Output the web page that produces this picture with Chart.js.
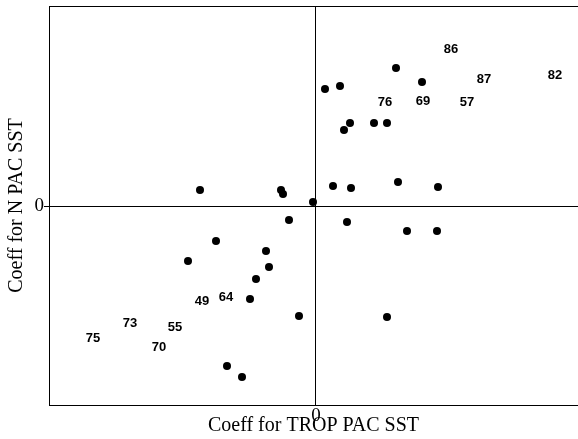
<!DOCTYPE html>
<html>
<head>
<meta charset="utf-8">
<script src="https://cdn.jsdelivr.net/npm/chart.js@4.4.1/dist/chart.umd.min.js"></script>
<style>
  html, body { margin: 0; padding: 0; background: #fff; }
</style>
</head>
<body>
<canvas id="chart" width="578" height="439"></canvas>
<script>
// years plotted as plain dots
const dotX = [-1.16, -0.35, -0.33, -0.27, 0.80, 1.06, 0.09, 0.24, 0.34, 0.28,
              0.58, 0.71, 0.17, 0.35, 0.82, 1.22, -0.03, -1.00, -1.28, -0.50,
              -0.47, -0.60, -0.66, -0.17, -0.89, -0.74, 0.31, 0.91, 1.21, 0.71];
const dotY = [0.16, 0.16, 0.12, -0.14, 1.38, 1.24, 1.17, 1.20, 0.83, 0.76,
              0.83, 0.83, 0.20, 0.18, 0.24, 0.19, 0.04, -0.35, -0.55, -0.45,
              -0.61, -0.73, -0.93, -1.10, -1.60, -1.71, -0.16, -0.25, -0.25, -1.11];

// years plotted as their labels
const yearLabels = ['86', '87', '82', '76', '69', '57', '49', '64', '73', '55', '75', '70'];
const yearX = [1.35, 1.68, 2.39, 0.69, 1.07, 1.51, -1.14, -0.90, -1.86, -1.41, -2.23, -1.57];
const yearY = [1.57, 1.27, 1.31, 1.04, 1.05, 1.04, -0.95, -0.91, -1.17, -1.21, -1.32, -1.41];

const xTicks = [0];
const yTicks = [0];
const xRange = [-2.67, 2.62];
const yRange = [-1.99, 2.00];

// little canvas with the year text, used as the point style
function labelImage(text) {
    const c = document.createElement('canvas');
    c.width = 26;
    c.height = 16;
    const g = c.getContext('2d');
    g.font = 'bold 13px "Liberation Sans", Arial, sans-serif';
    g.fillStyle = '#000';
    g.textAlign = 'center';
    g.textBaseline = 'middle';
    g.fillText(text, 13, 8.5);
    return c;
}

const serif = '"Liberation Serif", "Times New Roman", serif';

new Chart(document.getElementById('chart'), {
    type: 'scatter',
    data: {
        datasets: [{
            data: dotX.map((x, i) => ({ x: x, y: dotY[i] })),
            backgroundColor: '#000',
            borderColor: '#000',
            pointRadius: 4,
            borderWidth: 0
        }, {
            data: yearX.map((x, i) => ({ x: x, y: yearY[i] })),
            pointStyle: yearLabels.map(labelImage),
            pointRadius: 6
        }]
    },
    options: {
        responsive: false,
        animation: false,
        layout: { padding: 0, autoPadding: false },
        plugins: {
            legend: { display: false },
            tooltip: { enabled: false }
        },
        scales: {
            x: {
                type: 'linear',
                position: 'bottom',
                min: xRange[0],
                max: xRange[1],
                afterBuildTicks: axis => { axis.ticks = xTicks.map(v => ({ value: v })); },
                afterFit: axis => { axis.height = 34; axis.paddingLeft = 0; axis.paddingRight = 0; },
                grid: { color: '#000', lineWidth: 1, drawTicks: false },
                border: { display: true, color: '#000', width: 1 },
                ticks: {
                    padding: 0,
                    color: '#000',
                    font: { family: serif, size: 19 },
                    callback: v => String(v)
                },
                title: {
                    display: true,
                    text: 'Coeff for TROP PAC SST',
                    color: '#000',
                    font: { family: serif, size: 20 },
                    padding: { top: 0, bottom: 1 }
                }
            },
            x2: {
                type: 'linear',
                position: 'top',
                min: xRange[0],
                max: xRange[1],
                afterFit: axis => { axis.height = 6; axis.paddingLeft = 0; axis.paddingRight = 0; },
                grid: { display: false },
                border: { display: true, color: '#000', width: 1 },
                ticks: { display: false }
            },
            y: {
                type: 'linear',
                position: 'left',
                min: yRange[0],
                max: yRange[1],
                afterBuildTicks: axis => { axis.ticks = yTicks.map(v => ({ value: v })); },
                afterFit: axis => { axis.width = 49; axis.paddingTop = 0; axis.paddingBottom = 0; },
                grid: { color: '#000', lineWidth: 1, tickLength: 5 },
                border: { display: true, color: '#000', width: 1 },
                ticks: {
                    padding: 0,
                    color: '#000',
                    font: { family: serif, size: 19 },
                    callback: v => String(v)
                },
                title: {
                    display: true,
                    text: 'Coeff for N PAC SST',
                    color: '#000',
                    font: { family: serif, size: 20 },
                    padding: { top: 5, bottom: 0 }
                }
            }
        }
    }
});
</script>
</body>
</html>
